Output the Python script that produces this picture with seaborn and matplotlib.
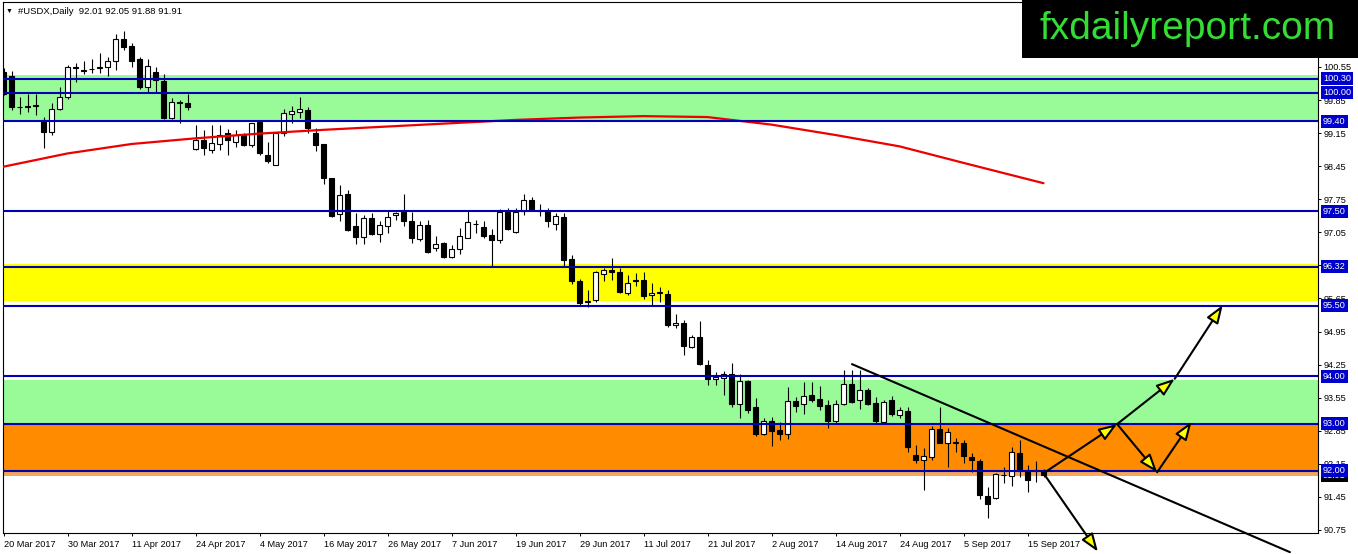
import matplotlib
matplotlib.use("Agg")
import matplotlib.pyplot as plt
import matplotlib.transforms as mtransforms
from matplotlib.patches import Rectangle
import numpy as np
import seaborn as sns

# ---------- data (bar index = trading day) ----------
date_ticks = list(range(0, 129, 8))
date_labels = ["20 Mar 2017", "30 Mar 2017", "11 Apr 2017", "24 Apr 2017",
               "4 May 2017", "16 May 2017", "26 May 2017", "7 Jun 2017",
               "19 Jun 2017", "29 Jun 2017", "11 Jul 2017", "21 Jul 2017",
               "2 Aug 2017", "14 Aug 2017", "24 Aug 2017", "5 Sep 2017",
               "15 Sep 2017"]

opens = [
    100.45, 100.35, 99.70, 99.72, 99.74, 99.43, 99.18, 99.67, 99.92, 100.56,
    100.47, 100.50, 100.52, 100.55, 100.68, 101.14, 100.99, 100.71, 100.12, 100.45,
    100.26, 99.46, 99.80, 99.78, 98.81, 99.00, 98.79, 98.93, 99.15, 98.97,
    99.12, 98.90, 99.38, 98.69, 98.47, 99.15, 99.55, 99.59, 99.64, 99.16,
    98.91, 98.19, 97.43, 97.86, 97.18, 96.96, 97.35, 97.01, 97.18, 97.42,
    97.47, 97.28, 96.91, 97.20, 96.71, 96.82, 96.52, 96.69, 96.94, 97.22,
    97.17, 96.99, 96.89, 97.49, 97.06, 97.50, 97.73, 97.53, 97.51, 97.22,
    97.37, 96.48, 96.03, 95.58, 95.62, 96.16, 96.25, 96.20, 95.77, 96.02,
    96.04, 95.72, 95.77, 95.74, 95.09, 95.14, 94.63, 94.83, 94.24, 93.94,
    93.96, 94.05, 93.42, 93.90, 93.36, 92.79, 93.06, 92.87, 92.79, 93.48,
    93.41, 93.61, 93.52, 93.39, 93.06, 93.41, 93.83, 93.49, 93.71, 93.44,
    93.04, 93.50, 93.18, 93.27, 92.34, 92.23, 92.30, 92.88, 92.60, 92.60,
    92.60, 92.29, 92.21, 91.47, 91.43, 91.91, 91.89, 92.38, 92.00, 92.00,
    92.01]
highs = [
    100.52, 100.47, 99.91, 99.97, 99.98, 99.50, 99.78, 100.12, 100.59, 100.64,
    100.68, 100.71, 100.84, 100.77, 101.25, 101.32, 101.06, 100.77, 100.71, 100.54,
    100.40, 99.89, 99.85, 99.98, 99.32, 99.22, 99.32, 99.32, 99.23, 99.22,
    99.15, 99.37, 99.43, 98.97, 99.16, 99.67, 99.72, 99.91, 99.70, 99.25,
    98.93, 98.20, 98.05, 97.95, 97.45, 97.42, 97.45, 97.28, 97.52, 97.49,
    97.86, 97.49, 97.29, 97.31, 96.97, 96.84, 96.78, 97.15, 97.50, 97.31,
    97.28, 97.11, 97.54, 97.56, 97.56, 97.86, 97.79, 97.65, 97.56, 97.45,
    97.45, 96.58, 96.06, 95.83, 96.24, 96.29, 96.50, 96.29, 96.15, 96.18,
    96.20, 95.97, 95.90, 95.83, 95.33, 95.19, 94.88, 95.18, 94.35, 94.10,
    94.12, 94.28, 94.05, 93.92, 93.54, 93.13, 93.15, 93.04, 93.78, 93.57,
    93.89, 93.89, 93.79, 93.50, 93.50, 94.13, 94.13, 94.13, 93.75, 93.57,
    93.50, 93.58, 93.36, 93.36, 92.55, 92.48, 92.94, 93.36, 92.90, 92.69,
    92.65, 92.37, 92.26, 91.65, 91.95, 92.09, 92.51, 92.65, 92.12, 92.21,
    92.05]
lows = [
    99.95, 99.64, 99.55, 99.60, 99.53, 98.84, 99.11, 99.64, 99.87, 100.24,
    100.40, 100.42, 100.42, 100.35, 100.49, 100.92, 100.56, 100.08, 100.03, 100.03,
    99.44, 99.45, 99.36, 99.63, 98.79, 98.68, 98.72, 98.79, 98.69, 98.86,
    98.88, 98.86, 98.69, 98.52, 98.47, 99.08, 99.36, 99.48, 99.15, 98.78,
    98.07, 97.38, 97.30, 97.08, 96.80, 96.80, 96.99, 96.85, 97.03, 97.31,
    97.19, 96.83, 96.87, 96.62, 96.66, 96.50, 96.50, 96.59, 96.93, 97.03,
    96.94, 96.32, 96.83, 97.09, 97.03, 97.42, 97.51, 97.40, 97.17, 97.09,
    96.34, 95.95, 95.51, 95.46, 95.58, 96.03, 96.04, 95.76, 95.72, 95.91,
    95.63, 95.51, 95.57, 95.05, 95.02, 94.45, 94.61, 94.25, 93.82, 93.82,
    93.61, 93.36, 93.13, 93.23, 92.74, 92.77, 92.53, 92.65, 92.67, 93.25,
    93.20, 93.46, 93.29, 92.91, 93.01, 93.40, 93.44, 93.30, 93.40, 93.01,
    93.03, 93.16, 93.13, 92.41, 92.16, 91.59, 92.23, 92.58, 92.09, 92.41,
    92.16, 91.98, 91.40, 91.00, 91.40, 91.74, 91.68, 91.88, 91.56, 91.77,
    91.88]
closes = [
    99.98, 99.71, 99.71, 99.71, 99.73, 99.18, 99.67, 99.92, 100.56, 100.53,
    100.48, 100.51, 100.54, 100.67, 101.14, 100.98, 100.68, 100.13, 100.57, 100.27,
    99.46, 99.80, 99.79, 99.71, 99.00, 98.83, 98.95, 99.12, 99.00, 99.12,
    98.90, 99.36, 98.72, 98.55, 99.15, 99.57, 99.62, 99.66, 99.25, 98.90,
    98.19, 97.40, 97.85, 97.09, 96.96, 97.35, 97.01, 97.20, 97.37, 97.45,
    97.28, 96.94, 97.20, 96.63, 96.80, 96.53, 96.70, 96.97, 97.26, 97.23,
    96.97, 96.89, 97.49, 97.12, 97.49, 97.73, 97.52, 97.51, 97.28, 97.40,
    96.46, 96.03, 95.56, 95.59, 96.20, 96.25, 96.20, 95.78, 95.97, 96.04,
    95.70, 95.77, 95.78, 95.09, 95.14, 94.64, 94.83, 94.27, 93.94, 93.99,
    94.06, 93.42, 93.90, 93.29, 92.79, 93.06, 92.85, 92.79, 93.48, 93.38,
    93.58, 93.50, 93.37, 93.06, 93.41, 93.84, 93.46, 93.71, 93.41, 93.06,
    93.46, 93.20, 93.29, 92.50, 92.23, 92.31, 92.88, 92.60, 92.83, 92.61,
    92.31, 92.22, 91.50, 91.29, 91.93, 91.92, 92.39, 92.02, 91.81, 92.01,
    91.91]

# 200-day moving average, read at every 8th bar
ma_bars = [0, 8, 16, 24, 32, 40, 48, 56, 64, 72, 80, 88, 96, 104, 112, 120, 130]
ma_values = [98.44, 98.72, 98.92, 99.04, 99.14, 99.22, 99.29, 99.36, 99.43,
             99.48, 99.51, 99.49, 99.33, 99.11, 98.87, 98.52, 98.09]

# horizontal levels with their price tags
levels = [100.30, 100.00, 99.40, 97.50, 96.32, 95.50, 94.00, 93.00, 92.00]
last_price = 91.91

# shaded zones
zone_top = [100.38, 96.37, 95.60, 93.93, 93.00, 92.00]
zone_bottom = [99.40, 95.60, 95.50, 93.02, 92.00, 91.89]
zone_colors = ["#98fb98", "#ffff00", "#ffffe8", "#98fb98", "#ff8c00", "#f5a65b"]

# trend line and scenario arrows (bar index, price)
trend_x = [106.06, 160.8]
trend_y = [94.26, 90.28]
arrow_x0 = [130.0, 130.0, 139.2, 144.2, 139.2, 146.4]
arrow_y0 = [91.95, 91.95, 92.99, 91.97, 92.99, 93.95]
arrow_x1 = [136.8, 139.2, 144.2, 148.5, 146.4, 152.4]
arrow_y1 = [90.29, 92.99, 91.97, 93.04, 93.95, 95.51]

y_ticks = [90.75, 91.45, 92.15, 92.85, 93.55, 94.25, 94.95, 95.65, 96.35,
           97.05, 97.75, 98.45, 99.15, 99.85, 100.55]

# ---------- figure ----------
sns.set_theme(style="white")
plt.rcParams["font.family"] = ["Liberation Sans", "DejaVu Sans"]

W, H = 1358, 554
fig = plt.figure(figsize=(W / 100, H / 100), dpi=100)
ax = fig.add_axes([3 / W, 21 / H, 1315 / W, 531 / H])
ax.set_xlim(-0.0625, 164.31)
ax.set_ylim(90.685, 101.926)

line_blue = "#0000b4"
tag_blue = "#0000cd"

for top, bot, col in zip(zone_top, zone_bottom, zone_colors):
    ax.axhspan(bot, top, color=col, lw=0, zorder=0.5)

# candles
idx = np.arange(len(opens))
o = np.array(opens)
c = np.array(closes)
ax.vlines(idx, lows, highs, color="black", lw=0.8, zorder=3)
body_bottom = np.minimum(o, c)
body_height = np.maximum(np.abs(c - o), 0.008)
body_color = np.where(c >= o, "white", "black")
ax.bar(idx, body_height, bottom=body_bottom, width=0.62, color=body_color,
       edgecolor="black", linewidth=0.8, zorder=4)

sns.lineplot(x=ma_bars, y=ma_values, color="#ee0000", lw=1.6, ax=ax,
             zorder=4.5, legend=False)

for lv in levels:
    ax.axhline(lv, color=line_blue, lw=1.5, zorder=5)

ax.plot(trend_x, trend_y, color="black", lw=1.5, clip_on=False, zorder=6)
for x0, y0, x1, y1 in zip(arrow_x0, arrow_y0, arrow_x1, arrow_y1):
    ax.annotate("", xy=(x1, y1), xytext=(x0, y0), annotation_clip=False,
                arrowprops=dict(arrowstyle="-|>,head_length=1.1,head_width=0.4",
                                mutation_scale=10, facecolor="#ffff00",
                                edgecolor="black", lw=1.5, shrinkA=0, shrinkB=0,
                                clip_on=False), zorder=7)

# axes styling
for sp in ax.spines.values():
    sp.set_color("black")
    sp.set_linewidth(0.8)
ax.yaxis.tick_right()
ax.set_yticks(y_ticks)
ax.set_yticklabels([f"{v:.2f}" for v in y_ticks])
ax.set_xticks(date_ticks)
ax.set_xticklabels(date_labels)
for lbl in ax.get_xticklabels():
    lbl.set_ha("left")
ax.tick_params(axis="y", right=True, left=False, direction="out", length=2.2,
               width=0.7, pad=1.8, labelsize=6.6, colors="black")
ax.tick_params(axis="x", bottom=True, direction="out", length=2.2, width=0.7,
               pad=2.5, labelsize=6.6, colors="black")
ax.grid(False)

# price tags on the right scale
trans = mtransforms.blended_transform_factory(ax.transAxes, ax.transData)
tag_x = 1 + 5 / 1315
ax.text(tag_x, last_price, f"{last_price:.2f}", transform=trans, fontsize=6.6,
        color="white", va="center", ha="left", clip_on=False, zorder=10,
        bbox=dict(boxstyle="square,pad=0.22", facecolor="black", edgecolor="none"))
for lv in levels:
    ax.text(tag_x, lv, f"{lv:.2f}", transform=trans, fontsize=6.6, color="white",
            va="center", ha="left", clip_on=False, zorder=11,
            bbox=dict(boxstyle="square,pad=0.22", facecolor=tag_blue, edgecolor="none"))

# header and watermark
fig.text(6 / W, 1 - 11 / H, "\u25bc", fontsize=5, va="center", color="black")
fig.text(18 / W, 1 - 11 / H, "#USDX,Daily  92.01 92.05 91.88 91.91",
         fontsize=6.8, va="center", color="black")
fig.patches.append(Rectangle((1022 / W, 1 - 58 / H), 336 / W, 58 / H,
                             transform=fig.transFigure, facecolor="black",
                             edgecolor="none", zorder=5))
fig.text(1188 / W, 1 - 39 / H, "fxdailyreport.com", fontsize=28, color="#33dd33",
         ha="center", va="baseline", zorder=6)

fig.savefig("out.png", dpi=100)
